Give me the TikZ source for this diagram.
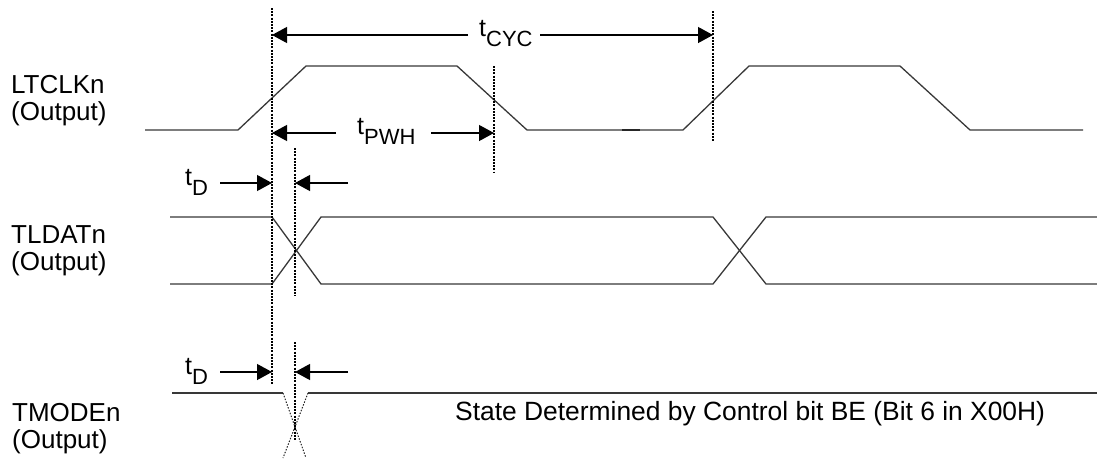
\documentclass[tikz,border=0pt]{standalone}
\usepackage{fontspec}
\setmainfont{Liberation Sans}
\usetikzlibrary{arrows.meta}
\newcommand\tsubscr[1]{t\raisebox{-10pt}{\fontsize{22}{23}\selectfont #1}}
\begin{document}
\begin{tikzpicture}[x=1pt,y=-1pt,
  sig/.style={line width=1.3pt,draw=black!78,line join=miter},
  sigdot/.style={line width=1pt,dash pattern=on 1.5pt off 1.5pt,draw=black!85},
  markthick/.style={line width=2.3pt,dash pattern=on 2pt off 1.2pt},
  markthin/.style={line width=1.3pt,dash pattern=on 2pt off 1.2pt},
  dim/.style={line width=1.2pt,-{Triangle[length=15pt,width=16pt]}},
  lbl/.style={anchor=base west,inner sep=0pt,font=\fontsize{26}{28}\selectfont},
  tlbl/.style={anchor=base west,inner sep=0pt,font=\fontsize{25}{27}\selectfont},
]
\useasboundingbox (0,0) rectangle (1097,458);

% signal names
\node[lbl] (n1) at (11,93) {LTCLKn};
\node[lbl] (n1o) at (11,120) {(Output)};
\node[lbl] (n2) at (11,243) {TLDATn};
\node[lbl] (n2o) at (11,270) {(Output)};
\node[lbl] (n3) at (12,421) {TMODEn};
\node[lbl] (n3o) at (12,448) {(Output)};
\node[lbl,font=\fontsize{26.4}{28}\selectfont] (state) at (455,420) {State Determined by Control bit BE (Bit 6 in X00H)};

% waveforms
\draw[sig] (145,130) -- (238,130) -- (306,66) -- (457,66) -- (527,130) -- (683,130)
  -- (749,66) -- (900,66) -- (970,130) -- (1083,130);
\draw[line width=2.6pt,black!85] (622,130) -- (640,130);

\draw[sig] (170,217) -- (272,217) -- (321,284) -- (713,284) -- (766,217) -- (1097,217);
\draw[sig] (170,284) -- (272,284) -- (321,217) -- (713,217) -- (766,284) -- (1097,284);

\draw[sig] (172,393) -- (283,393);
\draw[sig] (308,393) -- (1097,393);
\draw[sigdot] (283,393) -- (306,458);
\draw[sigdot] (308,393) -- (283,458);

% timing markers
\coordinate (m1t) at (272,8);   \coordinate (m1b) at (272,385);
\coordinate (m2t) at (295,148); \coordinate (m2b) at (295,296);
\coordinate (m5t) at (295,342); \coordinate (m5b) at (295,440);
\coordinate (m3t) at (494,66);  \coordinate (m3b) at (494,172);
\coordinate (m4t) at (713,11);  \coordinate (m4b) at (713,141);
\draw[markthick] (m1t) -- (m1b);
\draw[markthick] (m2t) -- (m2b);
\draw[markthick] (m5t) -- (m5b);
\draw[markthin] (m3t) -- (m3b);
\draw[markthin] (m4t) -- (m4b);

% dimension labels
\node[tlbl] (cyc) at (479,36) {\tsubscr{CYC}};
\node[tlbl] (pwh) at (357,134) {\tsubscr{PWH}};
\node[tlbl] (tda) at (185,185) {\tsubscr{D}};
\node[tlbl] (tdb) at (185,374) {\tsubscr{D}};

\coordinate (cycL) at (468,35);  \coordinate (cycR) at (540,35);
\coordinate (pwhL) at (336,133); \coordinate (pwhR) at (431,133);
\coordinate (tdaL) at (220,183); \coordinate (tdaR) at (348,183);
\coordinate (tdbL) at (220,372); \coordinate (tdbR) at (348,372);

\draw[dim] (cycL) -- (m1t |- cycL);
\draw[dim] (cycR) -- (m4t |- cycR);
\draw[dim] (pwhL) -- (m1t |- pwhL);
\draw[dim] (pwhR) -- (m3t |- pwhR);
\draw[dim] (tdaL) -- (m1t |- tdaL);
\draw[dim] (tdaR) -- (m2t |- tdaR);
\draw[dim] (tdbL) -- (m1t |- tdbL);
\draw[dim] (tdbR) -- (m5t |- tdbR);
\end{tikzpicture}
\end{document}
